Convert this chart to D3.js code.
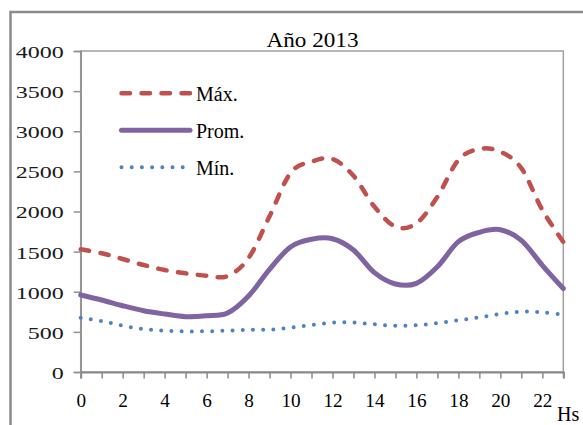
<!DOCTYPE html>
<html>
<head>
<meta charset="utf-8">
<script src="https://cdn.jsdelivr.net/npm/d3@7"></script>
<style>
  html, body { margin: 0; padding: 0; background: #fff; }
  svg { display: block; }
  text { font-family: "Liberation Serif", "Times New Roman", serif; fill: #000; }
</style>
</head>
<body>
<svg id="chart" width="583" height="425"></svg>
<script>
// Hourly demand profile, year 2013
const hours = [0,1,2,3,4,5,6,7,8,9,10,11,12,13,14,15,16,17,18,19,20,21,22,23];
const maxValues  = [1529,1479,1408,1333,1271,1230,1200,1196,1420,1940,2480,2621,2654,2445,2060,1811,1853,2184,2642,2779,2745,2540,2020,1620];
const avgValues  = [960,897,826,764,723,690,702,735,947,1280,1558,1654,1661,1520,1238,1097,1105,1312,1624,1741,1773,1640,1330,1040];
const minValues  = [677,635,577,536,515,507,507,515,527,527,552,586,615,617,594,577,582,611,644,682,723,752,745,715];
const seriesNames = ["Máx.", "Prom.", "Mín."];
const yTicks = [0,500,1000,1500,2000,2500,3000,3500,4000];
const xTickLabels = ["0","2","4","6","8","10","12","14","16","18","20","22"];
const titleText = "Año 2013";
const xAxisTitle = "Hs";

const svg = d3.select("#chart");
const plotLeft = 80.7, plotRight = 563.3, plotTop = 51, plotBottom = 372;

const x = d3.scaleLinear().domain([0, 23]).range([plotLeft, plotRight]);
const y = d3.scaleLinear().domain([0, 4000]).range([plotBottom, plotTop]);

// outer chart frame (runs off the right and bottom edges)
svg.append("path")
  .attr("d", `M10.5,440 V12 H600`)
  .attr("fill", "none")
  .attr("stroke", "#8a8a8a")
  .attr("stroke-width", 2.5);

// plot area border
svg.append("rect")
  .attr("x", plotLeft).attr("y", plotTop)
  .attr("width", plotRight - plotLeft).attr("height", plotBottom - plotTop)
  .attr("fill", "none")
  .attr("stroke", "#a0a0a0")
  .attr("stroke-width", 1.5);

// y axis
const yAxis = svg.append("g")
  .attr("transform", `translate(${plotLeft},0)`)
  .call(d3.axisLeft(y).tickValues(yTicks).tickSize(7).tickPadding(10).tickFormat(d3.format("d")));
yAxis.select(".domain").attr("stroke", "#909090").attr("stroke-width", 1.5);
yAxis.selectAll(".tick line").attr("stroke", "#909090").attr("stroke-width", 1.5);
yAxis.selectAll(".tick text")
  .attr("font-size", 16)
  .attr("dy", "0.4em")
  .style("fill", "#1a1a1a")
  .attr("textLength", d => String(d).length * 12)
  .attr("lengthAdjust", "spacingAndGlyphs");

// x axis: a tick every hour, a label every two hours
const xAxis = svg.append("g")
  .attr("transform", `translate(0,${plotBottom})`)
  .call(d3.axisBottom(x).tickValues(hours).tickSize(6.5).tickFormat(d => xTickLabels.includes(String(d)) ? String(d) : ""));
xAxis.select(".domain").attr("stroke", "#8a8a8a").attr("stroke-width", 2);
xAxis.selectAll(".tick line").attr("stroke", "#8a8a8a").attr("stroke-width", 1.5);
xAxis.selectAll(".tick text")
  .attr("font-size", 18)
  .attr("y", 0).attr("dy", 0)
  .attr("transform", "translate(0,35)")
  .filter(function () { return this.textContent !== ""; })
  .attr("textLength", function () { return this.textContent.length * 9.6; })
  .attr("lengthAdjust", "spacingAndGlyphs");

// axis title
svg.append("text")
  .attr("x", 557).attr("y", 421)
  .attr("font-size", 20)
  .text(xAxisTitle);

// chart title
svg.append("text")
  .attr("x", 312.5).attr("y", 46.7)
  .attr("text-anchor", "middle")
  .attr("font-size", 22)
  .attr("textLength", 92)
  .attr("lengthAdjust", "spacingAndGlyphs")
  .text(titleText);

// series lines (smoothed)
const line = d3.line()
  .x((d, i) => x(hours[i]))
  .y(d => y(d))
  .curve(d3.curveCardinal.tension(0));

const styles = [
  { values: maxValues, color: "#C0504D", width: 4.5, dash: "8.5,11.5", cap: "round" },
  { values: avgValues, color: "#8064A2", width: 5,   dash: null,       cap: "round" },
  { values: minValues, color: "#4F81BD", width: 4,   dash: "0,10.2",   cap: "round" }
];

styles.forEach(s => {
  svg.append("path")
    .datum(s.values)
    .attr("d", line)
    .attr("fill", "none")
    .attr("stroke", s.color)
    .attr("stroke-width", s.width)
    .attr("stroke-linecap", s.cap)
    .attr("stroke-dasharray", s.dash);
});

// legend
const legendRows = [93.3, 130.3, 167.3];
const legend = svg.append("g");
styles.forEach((s, i) => {
  legend.append("line")
    .attr("x1", 121.5).attr("x2", 190)
    .attr("y1", legendRows[i]).attr("y2", legendRows[i])
    .attr("stroke", s.color)
    .attr("stroke-width", s.width)
    .attr("stroke-linecap", s.cap)
    .attr("stroke-dasharray", s.dash);
  legend.append("text")
    .attr("x", 196).attr("y", legendRows[i] + 8)
    .attr("font-size", 20)
    .text(seriesNames[i]);
});
</script>
</body>
</html>
